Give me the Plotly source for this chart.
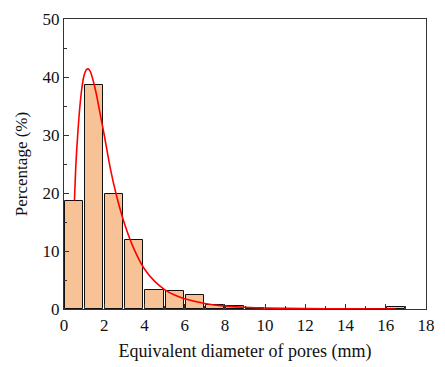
import plotly.graph_objects as go

# Histogram bins (mm) and percentages
bin_left = [0, 1, 2, 3, 4, 5, 6, 7, 8, 9, 10, 11, 12, 13, 14, 15, 16]
bin_pct = [18.7, 38.6, 19.8, 11.95, 3.3, 3.15, 2.35, 0.7, 0.6, 0.12, 0.0, 0.0, 0.0, 0.0, 0.0, 0.0, 0.4]

# Fitted curve
curve_x = [0.52, 0.6, 0.7, 0.8, 0.9, 1.0, 1.1, 1.2, 1.3, 1.4, 1.6, 1.8, 2.0, 2.3, 2.6, 3.0,
           3.5, 4.0, 4.5, 5.0, 5.5, 6.0, 7.0, 8.0, 9.0, 10.0, 12.0, 14.0, 16.5]
curve_y = [18.7, 25.5, 31.0, 35.3, 38.4, 40.3, 41.2, 41.4, 41.0, 40.0, 37.2, 33.6, 30.0, 24.3,
           19.7, 14.8, 10.2, 6.9, 4.8, 3.35, 2.4, 1.75, 0.95, 0.5, 0.3, 0.17, 0.07, 0.03, 0.01]

bar_x = [b + 0.5 for b in bin_left]

font_family = "Liberation Serif, Times New Roman, serif"

fig = go.Figure()
fig.add_trace(go.Bar(
    x=bar_x, y=bin_pct, width=0.9,
    marker=dict(color="#F6C296", line=dict(color="#111111", width=1)),
    showlegend=False,
))
fig.add_trace(go.Scatter(
    x=curve_x, y=curve_y, mode="lines",
    line=dict(color="#FF0000", width=1.6, shape="spline", smoothing=0.8),
    showlegend=False,
))

axis_common = dict(
    showgrid=False, zeroline=False, showline=True, linecolor="#333333", linewidth=1.3,
    mirror=True, ticks="inside", ticklen=5, tickwidth=1, tickcolor="#333333",
    tickfont=dict(family=font_family, size=17, color="#111111"),
)

fig.update_layout(
    width=445, height=367,
    margin=dict(l=64, r=10, t=13, b=57),
    paper_bgcolor="white", plot_bgcolor="white",
    bargap=0,
    xaxis=dict(range=[0, 18], dtick=2, tick0=0,
               minor=dict(ticks="inside", ticklen=3, dtick=1, tickcolor="#333333"),
               title=dict(text="Equivalent diameter of pores (mm)",
                          font=dict(family=font_family, size=18, color="#111111"), standoff=10),
               **axis_common),
    yaxis=dict(range=[0, 50], dtick=10, tick0=0,
               minor=dict(ticks="inside", ticklen=3, dtick=5, tickcolor="#333333"),
               title=dict(text="Percentage (%)",
                          font=dict(family=font_family, size=17, color="#111111"), standoff=10),
               **axis_common),
)

fig.write_html("out.html")
